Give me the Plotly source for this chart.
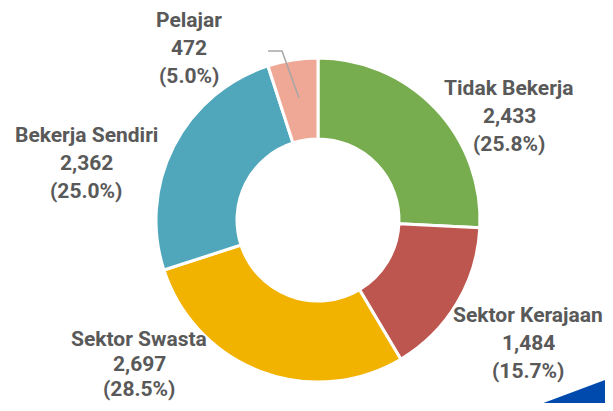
import plotly.graph_objects as go

# data
labels = ["Tidak Bekerja", "Sektor Kerajaan", "Sektor Swasta", "Bekerja Sendiri", "Pelajar"]
values = [2433, 1484, 2697, 2362, 472]
colors = ["#77AD4F", "#BE5650", "#F2B200", "#50A7BC", "#EFA895"]

# page body has an 8px margin; keep the figure small enough that no scrollbars show
OFF = 8
W, H = 613 - 2 * OFF, 411 - 2 * OFF

# label blocks in window pixels: (centre x, y of first line, line gap)
label_pos = {
	"Tidak Bekerja":   (509, 88, 28),
	"Sektor Kerajaan": (528, 315, 28),
	"Sektor Swasta":   (139, 339, 25),
	"Bekerja Sendiri": (86, 135, 28),
	"Pelajar":         (189, 20, 28),
}

total = sum(values)


def px(x):
	return (x - OFF) / W


def py(y):
	return 1 - (y - OFF) / H


fig = go.Figure()

# donut centre ~ (318, 220), outer radius ~ 162px
cx, cy, r = 318, 220, 162
fig.add_trace(go.Pie(
	labels=labels,
	values=values,
	hole=0.5,
	sort=False,
	direction="clockwise",
	rotation=0,
	marker=dict(colors=colors, line=dict(color="white", width=3)),
	textinfo="none",
	hoverinfo="label+value+percent",
	showlegend=False,
	domain=dict(x=[px(cx - r), px(cx + r)], y=[py(cy + r), py(cy - r)]),
))

# labels, one annotation per line
for lab, val in zip(labels, values):
	x0, y0, gap = label_pos[lab]
	lines = [lab, f"{val:,}", f"({val / total * 100:.1f}%)"]
	for i, txt in enumerate(lines):
		fig.add_annotation(
			x=px(x0), y=py(y0 + i * gap),
			xref="paper", yref="paper",
			text=f"<b>{txt}</b>", showarrow=False,
			xanchor="center", yanchor="middle",
			font=dict(family="Roboto", size=21, color="#595959"),
		)

# leader line for Pelajar
fig.add_shape(
	type="path", xref="paper", yref="paper",
	path=f"M {px(268)},{py(51)} L {px(282)},{py(51)} L {px(299)},{py(98)}",
	line=dict(color="#A6A6A6", width=1.5),
)

# blue corner decoration (runs off the bottom-right edge)
fig.add_shape(
	type="path", xref="paper", yref="paper",
	path=f"M {px(522)},{py(411)} L {px(613)},{py(377)} L {px(613)},{py(411)} Z",
	fillcolor="#004AAD", line=dict(width=0),
)

fig.update_layout(
	width=W, height=H,
	margin=dict(l=0, r=0, t=0, b=0),
	paper_bgcolor="white",
	plot_bgcolor="white",
)

fig.write_html("out.html")
